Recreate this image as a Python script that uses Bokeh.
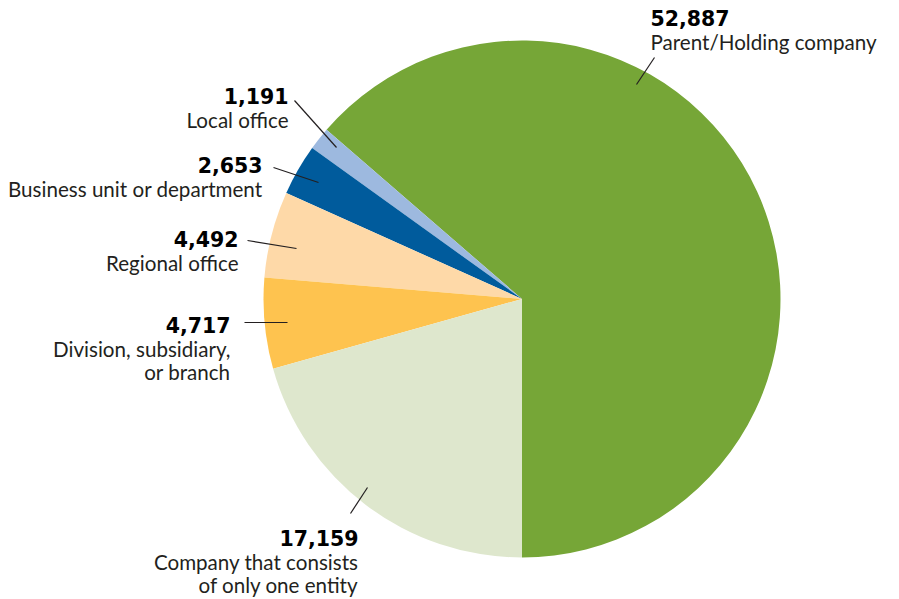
import math
from bokeh.plotting import figure
from bokeh.models import Range1d
from bokeh.core.properties import value
from bokeh.embed import file_html
from bokeh.resources import INLINE

# ---- data ----
categories = ["Parent/Holding company", "Local office", "Business unit or department",
              "Regional office", "Division, subsidiary,\nor branch",
              "Company that consists\nof only one entity"]
counts = [52887, 1191, 2653, 4492, 4717, 17159]
colors = ["#76a637", "#9db9df", "#005b9c", "#fed9a8", "#fec34f", "#dee7cd"]

# ---- layout (screen pixel coords, y measured from top of picture) ----
W, H = 899, 599
CX, CY, R = 521.5, 298.5, 258.5
TEXT_DY = -7  # compensation for rendered baseline

def sy(y):  # screen y -> data y
    return H - y

p = figure(width=W, height=H, output_backend="svg", toolbar_location=None,
           x_range=Range1d(0, W), y_range=Range1d(0, H),
           min_border=0, min_border_left=0, min_border_right=0,
           min_border_top=0, min_border_bottom=0)
p.axis.visible = False
p.xgrid.visible = False
p.ygrid.visible = False
p.outline_line_color = None
p.background_fill_color = "white"
p.border_fill_color = "white"

total = sum(counts)
start = -math.pi / 2
starts, ends = [], []
for c in counts:
    a = 2 * math.pi * c / total
    starts.append(start)
    ends.append(start + a)
    start += a

p.wedge(x=[CX] * len(counts), y=[sy(CY)] * len(counts), radius=R,
        start_angle=starts, end_angle=ends, fill_color=colors,
        line_color=None)

# label layout: (leader x0,y0,x1,y1), text x, number baseline y, align
layout = [
    ((636, 84, 654, 57), 650, 24, "left"),
    ((336, 147, 294, 100), 288, 102, "right"),
    ((318, 182, 273, 167), 262, 171, "right"),
    ((296, 248, 247, 240), 238, 245, "right"),
    ((287, 322, 244, 322), 230, 331, "right"),
    ((350, 513, 367, 487), 358, 544, "right"),
]

NUM_FONT = "DejaVu Sans"
TXT_FONT = "Lato"
for i, ((lx0, ly0, lx1, ly1), tx, ty, al) in enumerate(layout):
    p.segment(x0=[lx0], y0=[sy(ly0)], x1=[lx1], y1=[sy(ly1)],
              line_color="#231f20", line_width=1.2)
    p.text(x=[tx], y=[sy(ty + TEXT_DY)], text=[f"{counts[i]:,}"], text_align=al,
           text_baseline="alphabetic", text_font=value(NUM_FONT),
           text_font_style="bold", text_font_size="20.5px", text_color="#000000")
    for j, line in enumerate(categories[i].split("\n")):
        p.text(x=[tx], y=[sy(ty + TEXT_DY + 24.5 + 23 * j)], text=[line], text_align=al,
               text_baseline="alphabetic", text_font=value(TXT_FONT),
               text_font_size="20.6px", text_color="#231f20")

open("out.html", "w").write(file_html(p, INLINE))
